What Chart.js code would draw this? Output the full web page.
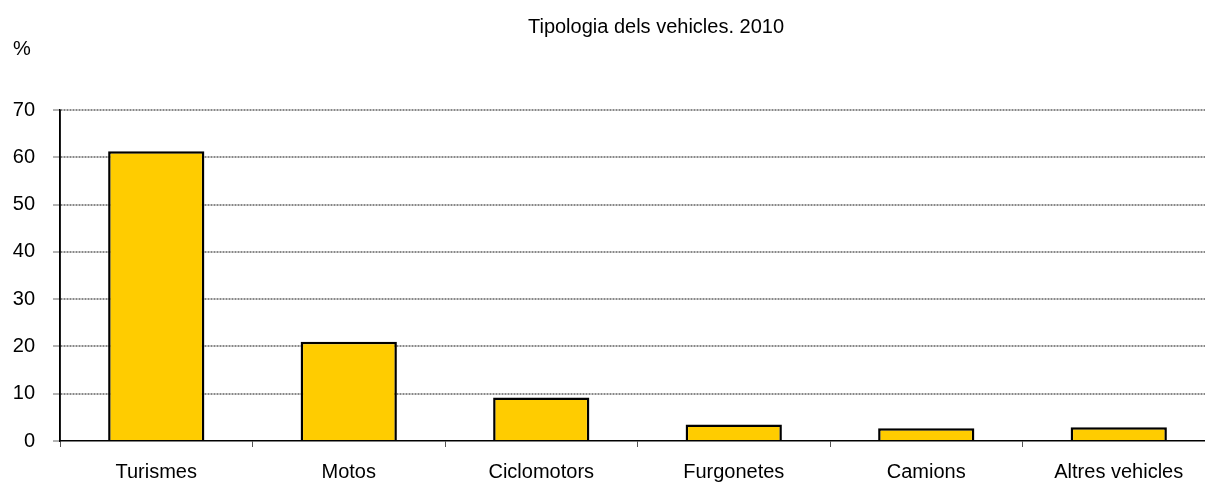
<!DOCTYPE html>
<html>
<head>
<meta charset="utf-8">
<script src="https://cdn.jsdelivr.net/npm/chart.js@4/dist/chart.umd.min.js"></script>
<style>
  html, body { margin: 0; padding: 0; background: #fff; overflow: hidden; }
  #wrap { width: 1216px; height: 488px; }
</style>
</head>
<body>
<div id="wrap"><canvas id="c" width="1216" height="488"></canvas></div>
<script>
const categories = ["Turismes", "Motos", "Ciclomotors", "Furgonetes", "Camions", "Altres vehicles"];
const values = [61.3, 21.0, 9.2, 3.5, 2.7, 2.9];
const yTicks = [0, 10, 20, 30, 40, 50, 60, 70];
const titleText = "Tipologia dels vehicles. 2010";
const unitText = "%";

const FONT = "'Liberation Sans', Arial, sans-serif";

const textPlugin = {
  id: 'texts',
  afterDatasetsDraw(chart) {
    // solid vertical axis line (grid lines themselves are dotted)
    const ctx = chart.ctx;
    const a = chart.chartArea;
    ctx.save();
    ctx.strokeStyle = '#000';
    ctx.lineWidth = 1.5;
    ctx.beginPath();
    ctx.moveTo(a.left, a.top);
    ctx.lineTo(a.left, a.bottom);
    ctx.stroke();
    ctx.restore();
  },
  afterDraw(chart) {
    const ctx = chart.ctx;
    ctx.save();
    ctx.fillStyle = '#000';
    ctx.font = '20px ' + FONT;
    ctx.textBaseline = 'alphabetic';
    ctx.textAlign = 'center';
    ctx.fillText(titleText, 656, 33);
    ctx.textAlign = 'left';
    ctx.fillText(unitText, 13, 55);
    ctx.restore();
  }
};

new Chart(document.getElementById('c'), {
  type: 'bar',
  data: {
    labels: categories,
    datasets: [{
      data: values,
      backgroundColor: '#FFCC00',
      borderColor: '#000000',
      borderWidth: 2.5,
      barPercentage: 0.5,
      categoryPercentage: 1.0
    }]
  },
  options: {
    responsive: false,
    animation: false,
    devicePixelRatio: 1,
    layout: { padding: { top: 110, right: 1, left: 0, bottom: 0 } },
    plugins: {
      legend: { display: false },
      title: { display: false },
      tooltip: { enabled: false }
    },
    scales: {
      x: {
        offset: true,
        grid: {
          display: true,
          offset: true,
          drawOnChartArea: false,
          drawTicks: true,
          tickLength: 6,
          tickColor: '#555',
          tickWidth: 1
        },
        border: { display: true, color: '#000', width: 1.5 },
        ticks: {
          color: '#000',
          font: { family: FONT, size: 20 },
          padding: 13,
          maxRotation: 0,
          autoSkip: false
        },
        afterFit(scale) { scale.height = 47; }
      },
      y: {
        min: 0,
        max: 70,
        afterBuildTicks(scale) { scale.ticks = yTicks.map(v => ({ value: v })); },
        grid: {
          display: true,
          color: (ctx) => ctx.tick && ctx.tick.value === 0 ? 'rgba(0,0,0,0)' : '#888888',
          lineWidth: 2,
          drawTicks: true,
          tickLength: 7,
          tickColor: '#666',
          tickWidth: 1,
          tickBorderDash: []
        },
        border: { display: true, color: '#000', width: 1.5, dash: [2, 1] },
        ticks: {
          color: '#000',
          font: { family: FONT, size: 20 },
          padding: 18
        },
        afterFit(scale) { scale.width = 60; }
      }
    }
  },
  plugins: [textPlugin]
});
</script>
</body>
</html>
